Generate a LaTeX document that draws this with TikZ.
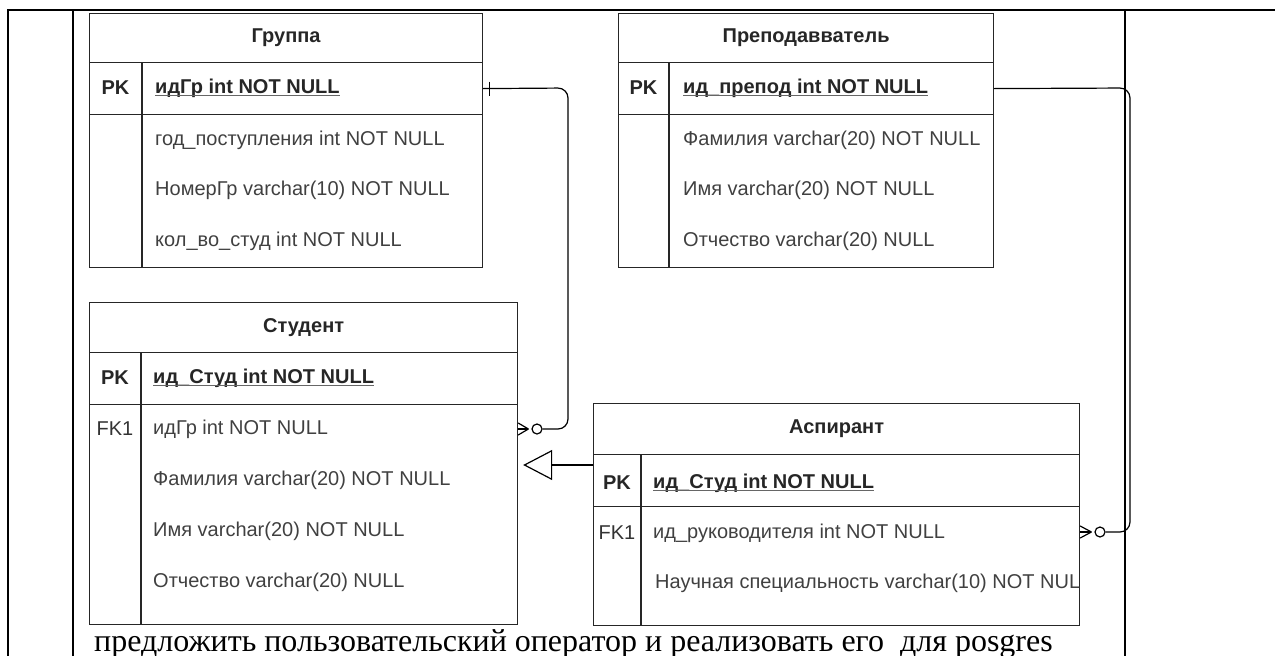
\documentclass[tikz,border=0pt]{standalone}
\usepackage{fontspec}
\setmainfont{Liberation Sans}
\newfontfamily\notefont{Liberation Serif}
\usetikzlibrary{arrows.meta}
\begin{document}
\begin{tikzpicture}[x=1pt,y=-1pt,
  tbl/.style={draw=black!85, line width=1.2pt, rectangle, inner sep=0pt, anchor=north west},
  divline/.style={draw=black!85, line width=1.2pt},
  hdr/.style={font=\fontsize{20}{24}\selectfont\bfseries, text=black!85, inner sep=0pt},
  key/.style={font=\fontsize{20}{24}\selectfont\bfseries, text=black!85, inner sep=0pt},
  fkey/.style={font=\fontsize{20}{24}\selectfont, text=black!80, inner sep=0pt},
  fld/.style={font=\fontsize{20}{24}\selectfont, text=black!75, anchor=west, inner sep=0pt},
  pkf/.style={font=\fontsize{20}{24}\selectfont\bfseries, text=black!85, anchor=west, inner sep=0pt},
  uline/.style={draw=black!60, line width=1pt},
  conn/.style={line width=1.2pt, draw=black},
  zero/.style={circle, draw=black, line width=1.2pt, minimum size=10pt, inner sep=0pt, fill=white},
  framel/.style={line width=2pt, draw=black},
]
\useasboundingbox (0,0) rectangle (1275,656);

% page frame
\draw[framel] (8,656) -- (8,10) -- (1275,10);
\draw[framel] (73,10) -- (73,656);
\draw[framel] (1125,10) -- (1125,656);

% ---------- Группа ----------
\node[tbl, minimum width=393pt, minimum height=49pt] (grH) at (89,13) {};
\node[tbl, minimum width=393pt, minimum height=52pt] (grPK) at (89,62) {};
\node[tbl, minimum width=393pt, minimum height=153pt] (grB) at (89,114) {};
\draw[divline] ([xshift=53pt]grPK.north west) -- ([xshift=53pt]grB.south west);
\node[hdr] (grT) at (grH.center) {Группа};
\node[key] (grK) at (115.5,88) {PK};
\node[pkf] (grP) at (155,88) {идГр int NOT NULL};
\draw[uline] ([yshift=-2pt]grP.base west) -- ([yshift=-2pt]grP.base east);
\node[fld] (grF1) at (155,140) {год\_поступления int NOT NULL};
\node[fld] (grF2) at (155,190) {НомерГр varchar(10) NOT NULL};
\node[fld] (grF3) at (155,241) {кол\_во\_студ int NOT NULL};

% ---------- Преподавватель ----------
\node[tbl, minimum width=375pt, minimum height=49pt] (prH) at (618,13) {};
\node[tbl, minimum width=375pt, minimum height=52pt] (prPK) at (618,62) {};
\node[tbl, minimum width=375pt, minimum height=153pt] (prB) at (618,114) {};
\draw[divline] ([xshift=51pt]prPK.north west) -- ([xshift=51pt]prB.south west);
\node[hdr] (prT) at (prH.center) {Преподавватель};
\node[key] (prK) at (643.5,88) {PK};
\node[pkf] (prP) at (683,88) {ид\_препод int NOT NULL};
\draw[uline] ([yshift=-2pt]prP.base west) -- ([yshift=-2pt]prP.base east);
\node[fld] (prF1) at (683,140) {Фамилия varchar(20) NOT NULL};
\node[fld] (prF2) at (683,190) {Имя varchar(20) NOT NULL};
\node[fld] (prF3) at (683,241) {Отчество varchar(20) NULL};

% ---------- Студент ----------
\node[tbl, minimum width=428pt, minimum height=50pt] (stH) at (89,302) {};
\node[tbl, minimum width=428pt, minimum height=52pt] (stPK) at (89,352) {};
\node[tbl, minimum width=428pt, minimum height=220pt] (stB) at (89,404) {};
\draw[divline] ([xshift=52pt]stPK.north west) -- ([xshift=52pt]stB.south west);
\node[hdr] (stT) at (stH.center) {Студент};
\node[key] (stK) at (115,378) {PK};
\node[pkf] (stP) at (153,378) {ид\_Студ int NOT NULL};
\draw[uline] ([yshift=-2pt]stP.base west) -- ([yshift=-2pt]stP.base east);
\node[fkey] (stFK) at (115,429) {FK1};
\node[fld] (stF1) at (153,429) {идГр int NOT NULL};
\node[fld] (stF2) at (153,480) {Фамилия varchar(20) NOT NULL};
\node[fld] (stF3) at (153,531) {Имя varchar(20) NOT NULL};
\node[fld] (stF4) at (153,582) {Отчество varchar(20) NULL};

% ---------- Аспирант ----------
\node[tbl, minimum width=486pt, minimum height=51pt] (asH) at (593,403) {};
\node[tbl, minimum width=486pt, minimum height=52pt] (asPK) at (593,454) {};
\node[tbl, minimum width=486pt, minimum height=119pt] (asB) at (593,506) {};
\draw[divline] ([xshift=48pt]asPK.north west) -- ([xshift=48pt]asB.south west);
\node[hdr] (asT) at (asH.center) {Аспирант};
\node[key] (asK) at (617,483) {PK};
\node[pkf] (asP) at (653,483) {ид\_Студ int NOT NULL};
\draw[uline] ([yshift=-2pt]asP.base west) -- ([yshift=-2pt]asP.base east);
\node[fkey] (asFK) at (617,533) {FK1};
\node[fld] (asF1) at (653,533) {ид\_руководителя int NOT NULL};
\begin{scope}
\clip (asB.north west) rectangle (asB.south east);
\node[fld] (asF2) at (655,583) {Научная специальность varchar(10) NOT NULL};
\end{scope}

% ---------- Группа 1 -- 0..N Студент ----------
\coordinate (st1) at (stB.east |- stF1);
\node[zero] (cz1) at (537,429) {};
\coordinate (r1) at (568,88);
\draw[conn, rounded corners=10pt] (grPK.east) -- (r1) -- (r1 |- st1) -- (cz1.east);
\draw[conn] ([xshift=6pt]grPK.east) ++(0,-7) -- ++(0,14);
\coordinate (cf1) at ([xshift=-3pt]cz1.west);
\draw[conn] (cf1) -- ([yshift=6pt]st1);
\draw[conn] (cf1) -- (st1);
\draw[conn] (cf1) -- ([yshift=-6pt]st1);

% ---------- Преподавватель 1 -- 0..N Аспирант ----------
\coordinate (as1) at (asB.east |- 0,532);
\node[zero] (cz2) at (1100,532) {};
\coordinate (r2) at (1130,88);
\draw[conn, rounded corners=10pt] (prPK.east) -- (r2) -- (r2 |- cz2) -- (cz2.east);
\coordinate (cf2) at ([xshift=-3pt]cz2.west);
\draw[conn] (cf2) -- ([yshift=6pt]as1);
\draw[conn] (cf2) -- (as1);
\draw[conn] (cf2) -- ([yshift=-6pt]as1);

% ---------- inheritance ----------
\coordinate (inh) at (593,465);
\draw[conn, -{Triangle[open, length=29pt, width=30pt, line width=1.2pt]}, shorten >=5pt] (inh) -- (inh -| stB.east);

% ---------- note ----------
\node[anchor=base west, inner sep=0pt, font=\notefont\fontsize{32}{38}\selectfont, text=black] (note) at (94,651)
  {предложить пользовательский оператор и реализовать его\ \ для posgres};
\end{tikzpicture}
\end{document}
